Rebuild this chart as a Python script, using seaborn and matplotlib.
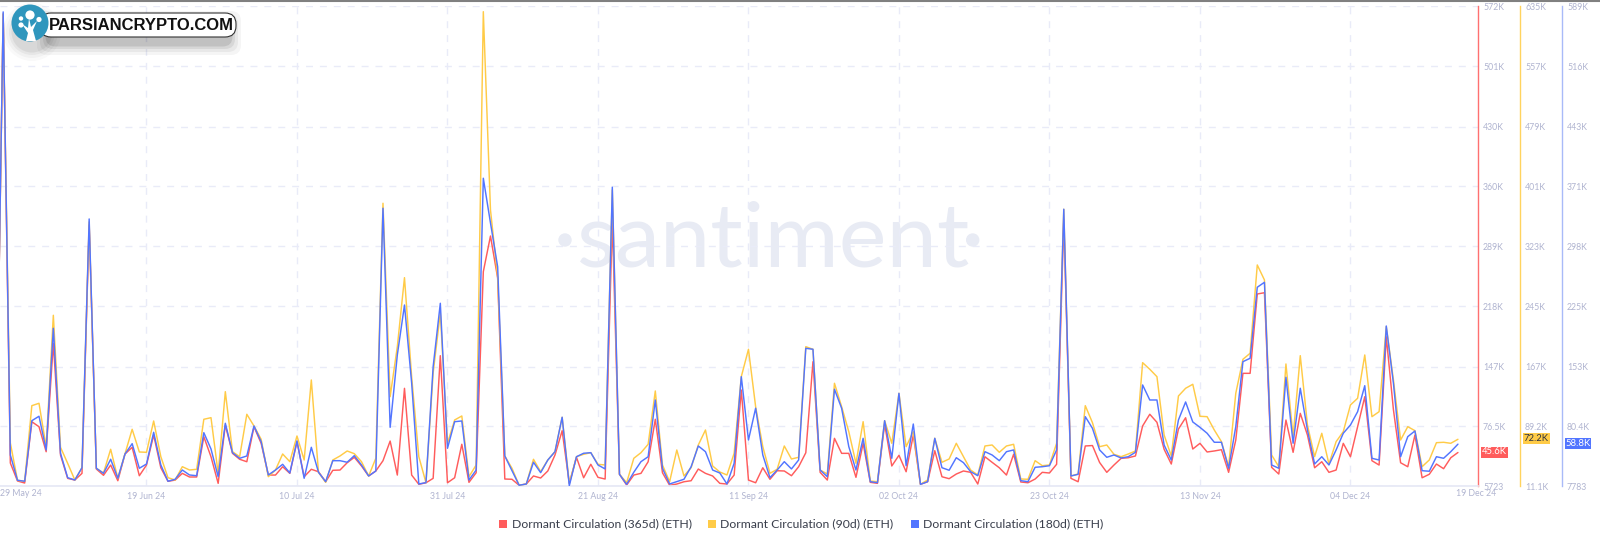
import pandas as pd
import matplotlib
matplotlib.use("Agg")
import matplotlib.pyplot as plt
import matplotlib.dates as mdates
from matplotlib.patches import Circle, FancyBboxPatch, Rectangle, Polygon
import seaborn as sns

# values in thousand ETH, one per day from 29 May 24
dormant_365 = [24.9, 563, 33.2, 12, 9.6, 81.9, 76, 46.5, 174.4, 42.6, 15.1, 13.1, 21, 314, 26.1, 18.7, 30.8, 12.3, 43.8, 51.7,
               18.2, 30.8, 66.2, 27.6, 11.6, 13.1, 21, 16.7, 16.7, 64.2, 40.6, 9.2, 78, 44.6, 37.6, 34.7, 76, 56.4, 19, 19,
               28.8, 21, 58.3, 17, 25.8, 22.9, 11.1, 24.6, 24.9, 33.5, 39.9, 29.7, 17.9, 23.8, 35.9, 59.1, 19, 121.3, 19, 8.1,
               9.9, 15.1, 159.8, 9.9, 15.8, 55.3, 10.4, 21.7, 258.9, 301, 251.5, 14.3, 14, 6.9, 8.4, 17.9, 15.5, 23.8, 42.6, 71.3,
               9.2, 39.9, 15.8, 31.7, 16.3, 14.3, 319.9, 19.9, 7.2, 19, 21, 34.7, 84.8, 21.7, 6.9, 8.4, 11.1, 12.3, 26.1, 21,
               17.9, 9.2, 8.4, 19, 119.3, 13.1, 9.9, 27.6, 14, 24.1, 23.8, 18.2, 28.8, 45.3, 152.7, 22.2, 13.1, 62.3, 44.6, 44.6,
               16.3, 56.4, 10.4, 9.2, 79.2, 29.7, 42.3, 22.9, 66.2, 8.1, 11.1, 47.7, 17, 14.7, 20.2, 23.8, 22.2, 8.4, 40.6, 34,
               27.6, 19, 43.5, 10.8, 9.9, 14.3, 22.2, 21.4, 31.7, 320, 15.1, 11.1, 53.3, 53.8, 33.8, 22.2, 30.8, 38.7, 39.4, 41.5,
               76.9, 90.7, 81.2, 49.4, 32, 73.3, 86.6, 49.7, 56.4, 46.2, 47.4, 48.9, 22.2, 60.3, 139, 139, 232.6, 234.1, 28.1, 20.2,
               83.9, 45.8, 91.8, 66.2, 27.6, 34.7, 22.2, 24.9, 56.4, 40.6, 76, 111.4, 35.9, 30.8, 182.2, 96, 33.5, 28.8, 66.2, 15.8,
               19.9, 32, 26.5, 39.4, 45.6]
dormant_90 = [32.3, 625.1, 67.4, 18.9, 17.6, 115.9, 119, 62.2, 233.4, 61.8, 41, 19.3, 35.3, 354.7, 34.5, 28.4, 59.2, 21.5, 53.1, 85.2,
              55.7, 55.3, 96, 49.6, 22.3, 19.3, 36.6, 32.3, 33.2, 98.2, 100.3, 28, 134.1, 56.1, 49.6, 104.7, 89.5, 72.2, 23.6, 32.3,
              53.1, 43.1, 76.5, 45.3, 149.3, 29.3, 16.3, 45.3, 50.5, 57, 53.5, 43.1, 24.5, 47.5, 379, 127.6, 192.6, 282.3, 153.6, 49.6,
              15.8, 158.4, 236.4, 67, 97.3, 102.5, 23.6, 38.8, 628, 370.3, 283.2, 50.5, 34.5, 12.4, 14.1, 46.2, 30.1, 45.3, 56.1, 100.8,
              15, 49.6, 52.7, 54.8, 39.7, 38.8, 396.3, 26.7, 15.8, 47.5, 54.8, 65.7, 135, 38.8, 17.1, 58.3, 24.5, 35.3, 64.8, 84.3,
              37.5, 29.7, 25.8, 54, 153.6, 189.2, 114.6, 62.6, 28, 33.2, 63.5, 46.6, 48.8, 192.6, 189.2, 32.3, 27.1, 145, 114.6, 82.1,
              41, 95.1, 18, 17.1, 96.4, 67, 132, 62.6, 82.1, 13.7, 19.3, 73.5, 42.3, 46.6, 67, 49.6, 32.3, 25.8, 63.5, 64.8,
              55.3, 63.5, 65.7, 20.6, 20.2, 44.4, 37.9, 38.8, 67, 371.2, 24.5, 27.1, 115.9, 93.8, 62.6, 64.8, 52.7, 49.6, 53.1, 57,
              171.8, 163.2, 153.6, 77.8, 50.5, 128.5, 138.5, 143.7, 102.1, 101.6, 84.3, 69.1, 36.6, 132, 176.2, 184, 298.8, 279.3, 51.8, 36.6,
              170.1, 75.6, 180.9, 90.8, 49.6, 80, 40.1, 69.1, 82.1, 116.8, 125.5, 181.8, 101.6, 108.1, 218.6, 149.3, 71.3, 88.6, 83.4, 36.6,
              45.3, 67.8, 68.3, 67, 72.2]
dormant_180 = [27.5, 582.2, 45.7, 15.1, 13.9, 87.2, 92.6, 51.8, 199.1, 47.8, 18.2, 15.4, 30.3, 331.5, 29.6, 23.5, 40.5, 17.5, 46.9, 59.4,
               29.6, 34.8, 73.2, 33.6, 13.9, 16.3, 27.5, 21.5, 20.6, 72.7, 53, 19.4, 84.1, 48.5, 41.7, 44.5, 80.8, 61.8, 21.5, 27.5,
               34.4, 23.9, 62.7, 17.5, 55, 24.8, 13.4, 38.8, 38.8, 36.9, 44.9, 33.6, 20.3, 26.3, 344.5, 79.2, 166.8, 227.3, 132.9, 10.6,
               12.2, 152.6, 229.4, 53.8, 86, 86.9, 15.4, 27.5, 380.8, 326.7, 273.7, 44.5, 26.7, 9, 10.6, 36.9, 24.3, 39.6, 49.7, 91.4,
               8.5, 43.6, 47.8, 48.5, 33.6, 28.8, 369.9, 22.3, 10.2, 24.8, 37.6, 43.6, 112.3, 29.6, 10.6, 13.4, 16.3, 31.5, 56.6, 49.7,
               27.5, 23.9, 10.6, 35.6, 140.5, 63.9, 102.3, 45.7, 18.2, 27.5, 37.6, 28.8, 39.6, 174.9, 173.7, 27.5, 19.4, 125.3, 102.3, 55.8,
               27.5, 65.9, 13.4, 12.2, 87.2, 41.7, 120.4, 32.7, 83.2, 10.2, 13.4, 65.9, 30.3, 27.2, 42.4, 36.4, 25.5, 20.6, 49.7, 45.7,
               38.8, 49.7, 51.8, 14.6, 13.4, 30.8, 31.5, 32.7, 51.8, 343.3, 20.3, 22.3, 92.1, 78, 51.8, 42.9, 45.7, 42.1, 43.6, 49,
               130.5, 112.3, 112.3, 57.8, 39.6, 88.1, 109.9, 85.7, 79.2, 72, 61.1, 61.1, 29.6, 80, 158.7, 162.8, 248.8, 254.8, 33.6, 29.6,
               139.8, 59.9, 126.5, 76, 34.8, 43.6, 33.6, 51.8, 72, 82, 98.1, 129.6, 41.7, 39.6, 201.9, 132.5, 43.6, 67.9, 74.8, 26.7,
               26, 43.6, 41.7, 49.7, 58.8]

red_ticks = [5.723, 76.5, 147, 218, 289, 360, 430, 501, 572]
red_labels = ["5723", "76.5K", "147K", "218K", "289K", "360K", "430K", "501K", "572K"]
yellow_ticks = [11.1, 89.2, 167, 245, 323, 401, 479, 557, 635]
yellow_labels = ["11.1K", "89.2K", "167K", "245K", "323K", "401K", "479K", "557K", "635K"]
blue_ticks = [7.783, 80.4, 153, 225, 298, 371, 443, 516, 589]
blue_labels = ["7783", "80.4K", "153K", "225K", "298K", "371K", "443K", "516K", "589K"]
date_ticks = ["2024-06-19", "2024-07-10", "2024-07-31", "2024-08-21", "2024-09-11", "2024-10-02", "2024-10-23", "2024-11-13", "2024-12-04"]

RED = "#ff5c5c"
YELLOW = "#ffcb47"
BLUE = "#5275ff"
TICK = "#b0b4d0"
GRID = "#e9ebf8"
TICK_SIZE = 6.3

sns.set_theme(style="white")
plt.rcParams["font.family"] = ["Lato", "DejaVu Sans"]

df = pd.DataFrame({"date": pd.date_range("2024-05-29", periods=len(dormant_365)),
                   "d365": dormant_365, "d90": dormant_90, "d180": dormant_180})

fig = plt.figure(figsize=(16, 5.44), dpi=100, facecolor="white")

# background layer for the watermark
bg = fig.add_axes([0, 0, 1, 1], zorder=-1)
bg.set_xlim(0, 1600)
bg.set_ylim(544, 0)
bg.axis("off")
bg.text(577, 266.7, "santiment", fontsize=65, color="#e8ebf4", ha="left", va="baseline")
bg.add_patch(Circle((565, 240), 6, color="#e8ebf4"))
bg.add_patch(Circle((972.7, 240), 6, color="#e8ebf4"))

ax = fig.add_axes([0, (544 - 486.3) / 544, 1478 / 1600, 480 / 544], zorder=1)
ax.patch.set_alpha(0)
ax2 = ax.twinx()
ax3 = ax.twinx()
ax2.set_zorder(2)
ax3.set_zorder(3)

sns.lineplot(data=df, x="date", y="d365", ax=ax, color=RED, lw=1.05, errorbar=None)
sns.lineplot(data=df, x="date", y="d90", ax=ax2, color=YELLOW, lw=1.05, errorbar=None)
sns.lineplot(data=df, x="date", y="d180", ax=ax3, color=BLUE, lw=1.05, errorbar=None)

start = df["date"][0]
ax.set_xlim(start + pd.Timedelta(days=0.558), start + pd.Timedelta(days=206.8))
ax.set_ylim(red_ticks[0], red_ticks[-1])
ax2.set_ylim(yellow_ticks[0], yellow_ticks[-1])
ax3.set_ylim(blue_ticks[0], blue_ticks[-1])

ax.set_xticks(mdates.date2num(pd.to_datetime(date_ticks)))
ax.set_xticklabels(pd.to_datetime(date_ticks).strftime("%d %b %y"))
ax.tick_params(axis="x", length=0, pad=4, labelsize=TICK_SIZE, labelcolor=TICK)
ax.grid(True, color=GRID, lw=1, ls=(0, (5, 5)))
ax.set_xlabel("")

for a, ticks, labels, col in [(ax, red_ticks, red_labels, "#ff7070"),
                              (ax2, yellow_ticks, yellow_labels, "#ffd35f"),
                              (ax3, blue_ticks, blue_labels, "#a9baf8")]:
    a.yaxis.tick_right()
    a.set_yticks(ticks)
    a.set_yticklabels(labels)
    a.tick_params(axis="y", length=0, pad=3.6, labelsize=TICK_SIZE, labelcolor=TICK)
    a.set_ylabel("")
    for s in ["top", "left"]:
        a.spines[s].set_visible(False)
    a.spines["bottom"].set_visible(a is ax)
    a.spines["bottom"].set_color("#e6e8f5")
    a.spines["right"].set_color(col)
    a.spines["right"].set_linewidth(1.0)
ax2.spines["right"].set_position(("outward", 42 * 0.72))
ax3.spines["right"].set_position(("outward", 84 * 0.72))
ax2.grid(False)
ax3.grid(False)

# top layer: end labels, badges, legend, logo
top = fig.add_axes([0, 0, 1, 1], zorder=5)
top.set_xlim(0, 1600)
top.set_ylim(544, 0)
top.axis("off")
top.patch.set_alpha(0)

top.plot([0, 1600], [0.5, 0.5], color="#808080", lw=1.5)
top.text(0, 494, "29 May 24", fontsize=TICK_SIZE, color=TICK, ha="left", va="center")
top.text(1456, 494, "19 Dec 24", fontsize=TICK_SIZE, color=TICK, ha="left", va="center")

for x, y, val, col, tcol in [(1481, 452, dormant_365[-1], RED, "white"),
                             (1523, 438.8, dormant_90[-1], YELLOW, "#2f3340"),
                             (1564.7, 443.5, dormant_180[-1], BLUE, "white")]:
    top.add_patch(Rectangle((x, y - 5.5), 26.6, 11, color=col, lw=0))
    top.text(x + 13.3, y, f"{val}K", fontsize=TICK_SIZE + 0.5, color=tcol, ha="center", va="center")

for x, name, col in [(499.3, "Dormant Circulation (365d) (ETH)", RED),
                     (708, "Dormant Circulation (90d) (ETH)", YELLOW),
                     (911, "Dormant Circulation (180d) (ETH)", BLUE)]:
    top.add_patch(Rectangle((x, 520.3), 7.5, 7.5, color=col, lw=0))
    top.text(x + 12.3, 524, name, fontsize=8.85, color="#3a3f4c", ha="left", va="center")

# logo with a soft shadow
for grow, alpha in [(11, 0.04), (8, 0.05), (5, 0.07), (2.5, 0.1)]:
    top.add_patch(FancyBboxPatch((48 - grow, 22 - grow), 182 + 2 * grow, 22 + 2 * grow,
                                 boxstyle="round,pad=0,rounding_size=10", color="black", alpha=alpha, lw=0))
    top.add_patch(Circle((32, 32), 18 + grow, color="black", alpha=alpha * 0.6, lw=0))
top.add_patch(FancyBboxPatch((40, 13), 196, 24, boxstyle="round,pad=0,rounding_size=11",
                             facecolor="white", edgecolor="#333333", lw=0.8))
top.text(49, 25.3, "PARSIANCRYPTO.COM", fontsize=12, fontweight="bold", color="#111111",
         family="Liberation Sans", ha="left", va="center")
top.add_patch(Circle((30, 23), 18.5, color="#2f96bd", lw=0))
for cx, cy, r in [(30, 15, 4.6), (39, 19.5, 2.6), (21, 18.5, 2.2), (21, 25, 2.6)]:
    top.add_patch(Circle((cx, cy), r, color="white", lw=0))
top.add_patch(Polygon([(26, 41), (36, 41), (33, 30), (37, 21), (31, 27), (29, 18), (28, 28), (22, 24), (28, 33)],
                      closed=True, color="white", lw=0))

fig.savefig("out.png", dpi=100)
